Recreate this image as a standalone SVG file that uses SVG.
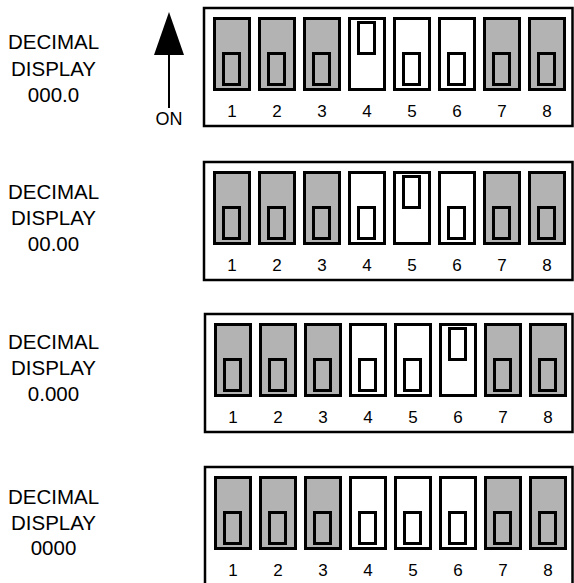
<svg xmlns="http://www.w3.org/2000/svg" xmlns:xlink="http://www.w3.org/1999/xlink" width="574" height="583" viewBox="0 0 574 583">
<style>
.box{fill:#fff;stroke:#000;stroke-width:2.5}
.sw{stroke:#000;stroke-width:3}
.g{fill:#b3b3b3}
.w{fill:#fff}
.lbl{font-family:"Liberation Sans",Arial,sans-serif;font-size:20.5px;text-anchor:middle;fill:#000}
.num{font-family:"Liberation Sans",Arial,sans-serif;font-size:17px;text-anchor:middle;fill:#000}
.on{font-family:"Liberation Sans",Arial,sans-serif;font-size:18px;text-anchor:middle;fill:#000}
</style>
<defs>
<g id="gd"><rect class="sw g" x="1.5" y="1.5" width="35" height="71"/><rect class="sw g" x="10.5" y="36.5" width="16" height="31"/></g>
<g id="wd"><rect class="sw w" x="1.5" y="1.5" width="35" height="71"/><rect class="sw w" x="10.5" y="36.5" width="16" height="31"/></g>
<g id="wu"><rect class="sw w" x="1.5" y="1.5" width="35" height="71"/><rect class="sw w" x="10.5" y="5.5" width="16" height="31"/></g>
<g id="nums">
<text class="num" x="19" y="100">1</text><text class="num" x="64" y="100">2</text><text class="num" x="109" y="100">3</text><text class="num" x="154" y="100">4</text><text class="num" x="199" y="100">5</text><text class="num" x="244" y="100">6</text><text class="num" x="289" y="100">7</text><text class="num" x="334" y="100">8</text>
</g>
</defs>
<g id="connectors">
<line x1="169" y1="54" x2="169" y2="108" stroke="#000" stroke-width="2"/>
<polygon points="169,12 154,55 184,55" fill="#000"/>
<text class="on" x="169" y="125">ON</text>
</g>
<g id="label1"><text class="lbl" x="53.5" y="49">DECIMAL</text><text class="lbl" x="53.5" y="76">DISPLAY</text><text class="lbl" x="53.5" y="102">000.0</text></g>
<g id="label2"><text class="lbl" x="53.5" y="199">DECIMAL</text><text class="lbl" x="53.5" y="225">DISPLAY</text><text class="lbl" x="53.5" y="251">00.00</text></g>
<g id="label3"><text class="lbl" x="53.5" y="349">DECIMAL</text><text class="lbl" x="53.5" y="375">DISPLAY</text><text class="lbl" x="53.5" y="401">0.000</text></g>
<g id="label4"><text class="lbl" x="53.5" y="504">DECIMAL</text><text class="lbl" x="53.5" y="530">DISPLAY</text><text class="lbl" x="53.5" y="555">0000</text></g>
<g id="panel1">
<rect class="box" x="204" y="8" width="368.5" height="118"/>
<g transform="translate(213,17)">
<use xlink:href="#gd" x="0"/><use xlink:href="#gd" x="45"/><use xlink:href="#gd" x="90"/><use xlink:href="#wu" x="135"/><use xlink:href="#wd" x="180"/><use xlink:href="#wd" x="225"/><use xlink:href="#gd" x="270"/><use xlink:href="#gd" x="315"/><use xlink:href="#nums"/>
</g>
</g>
<g id="panel2">
<rect class="box" x="204" y="162" width="368.5" height="118"/>
<g transform="translate(213,171)">
<use xlink:href="#gd" x="0"/><use xlink:href="#gd" x="45"/><use xlink:href="#gd" x="90"/><use xlink:href="#wd" x="135"/><use xlink:href="#wu" x="180"/><use xlink:href="#wd" x="225"/><use xlink:href="#gd" x="270"/><use xlink:href="#gd" x="315"/><use xlink:href="#nums"/>
</g>
</g>
<g id="panel3">
<rect class="box" x="205" y="314" width="367.5" height="118"/>
<g transform="translate(214,323)">
<use xlink:href="#gd" x="0"/><use xlink:href="#gd" x="45"/><use xlink:href="#gd" x="90"/><use xlink:href="#wd" x="135"/><use xlink:href="#wd" x="180"/><use xlink:href="#wu" x="225"/><use xlink:href="#gd" x="270"/><use xlink:href="#gd" x="315"/><use xlink:href="#nums"/>
</g>
</g>
<g id="panel4">
<rect class="box" x="205" y="467" width="367.5" height="130"/>
<g transform="translate(214,476)">
<use xlink:href="#gd" x="0"/><use xlink:href="#gd" x="45"/><use xlink:href="#gd" x="90"/><use xlink:href="#wd" x="135"/><use xlink:href="#wd" x="180"/><use xlink:href="#wd" x="225"/><use xlink:href="#gd" x="270"/><use xlink:href="#gd" x="315"/><use xlink:href="#nums"/>
</g>
</g>
</svg>
